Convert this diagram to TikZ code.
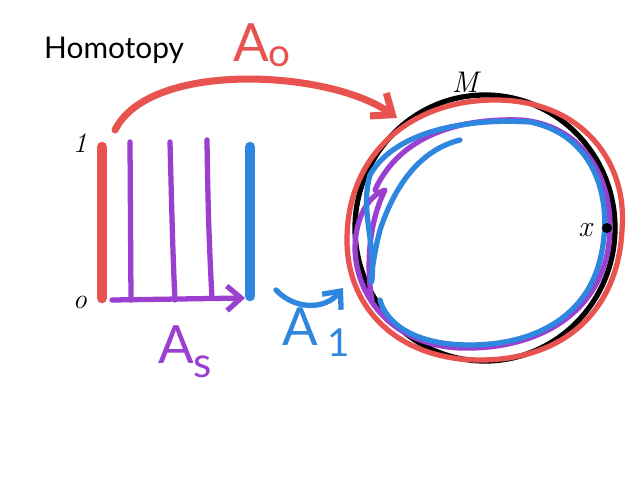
\documentclass[tikz,border=0pt]{standalone}
\usepackage{fontspec}
\setsansfont{Lato}
\usetikzlibrary{arrows.meta}
\begin{document}
\begin{tikzpicture}[x=0.02cm,y=-0.02cm,line cap=round,line join=round,
  hand/.style={line width=4pt},
  lbl/.style={font=\sffamily\fontsize{30}{30}\selectfont}]
\definecolor{rd}{HTML}{E8524F}
\definecolor{pu}{HTML}{9B3FD0}
\definecolor{bl}{HTML}{2E86DE}
\useasboundingbox[fill=white] (0,0) rectangle (640,480);
\node[anchor=west,font=\sffamily\fontsize{17}{17}\selectfont] (title) at (38,50) {Homotopy};
\node[lbl,text=rd] (a0) at (262,45) {A\raisebox{-3pt}{\fontsize{22}{22}\selectfont o}};
\coordinate (s0) at (115,130);
\coordinate (e0) at (397,118);
\draw[rd,hand,-{Straight Barb[length=10pt,width=16pt]}] (s0) .. controls (150,60) and (330,70) .. (e0);
\node[font=\itshape\fontsize{16}{16}\selectfont] (one) at (80,143) {1};
\node[font=\itshape\fontsize{16}{16}\selectfont] (zero) at (80,302) {o};
\draw[rd,line width=6pt] (102,147) -- (102,298);
\draw[pu,line width=3pt] (130,142) -- (131,300);
\draw[pu,line width=3pt] (170,142) .. controls (172,220) and (173,260) .. (175,300);
\draw[pu,line width=3pt] (207,140) .. controls (208,220) and (210,260) .. (212,298);
\draw[bl,line width=6pt] (250,147) -- (250,296);
\coordinate (ps) at (112,300);
\coordinate (pe) at (245,298);
\draw[pu,line width=3pt,-{Straight Barb[length=8pt,width=14pt]}] (ps) -- (pe);
\node[lbl,text=pu] (as) at (185,352) {A\raisebox{-8pt}{\fontsize{24}{24}\selectfont s}};
\coordinate (bs) at (276,290);
\coordinate (be) at (343,288);
\draw[bl,line width=3pt,-{Straight Barb[length=8pt,width=14pt]}] (bs) .. controls (295,310) and (325,310) .. (be);
\node[lbl,text=bl] (a1) at (316,332) {A\raisebox{-6pt}{\,\fontsize{22}{22}\selectfont 1}};
% circles
\draw[black,line width=3pt] (485,228) ellipse (130 and 133);
\draw[rd,line width=3pt] (347,240) .. controls (347,155) and (410,100) .. (495,100)
  .. controls (580,100) and (628,160) .. (622,230)
  .. controls (618,310) and (565,360) .. (480,360)
  .. controls (400,360) and (347,310) .. (347,240);
\draw[pu,line width=3pt] (375,190) .. controls (400,135) and (460,118) .. (520,120)
  .. controls (590,125) and (618,190) .. (608,250)
  .. controls (595,320) and (530,350) .. (460,348)
  .. controls (395,345) and (357,300) .. (355,250)
  .. controls (355,215) and (370,195) .. (385,190)
  .. controls (365,230) and (368,280) .. (372,300);
\draw[bl,line width=3pt] (460,140) .. controls (420,150) and (395,185) .. (380,230)
  .. controls (372,260) and (370,290) .. (372,280)
  .. controls (375,240) and (360,210) .. (370,175)
  .. controls (395,130) and (470,118) .. (530,122)
  .. controls (595,135) and (615,200) .. (600,260)
  .. controls (585,320) and (530,345) .. (470,345)
  .. controls (410,345) and (385,320) .. (380,300);
\node[font=\itshape\fontsize{17}{17}\selectfont] (M) at (465,82) {M};
\node[font=\itshape\fontsize{17}{17}\selectfont] (x) at (585,230) {x};
\fill (607,228) circle (5);
\end{tikzpicture}
\end{document}
